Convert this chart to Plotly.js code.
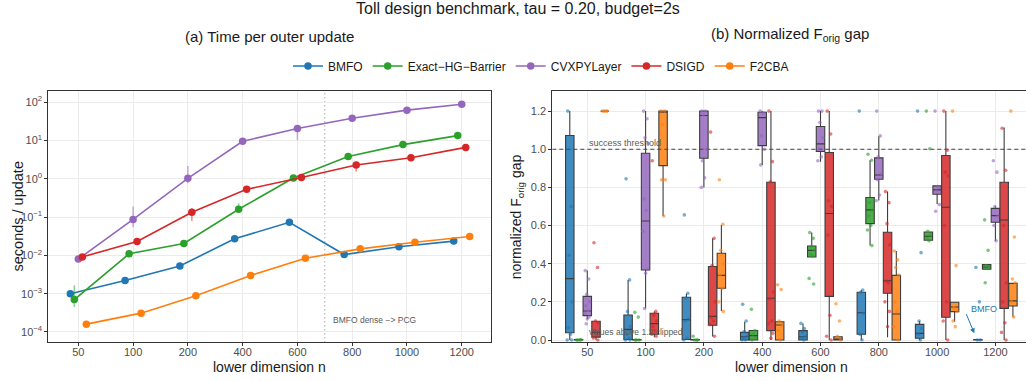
<!DOCTYPE html>
<html><head><meta charset="utf-8">
<script src="https://cdn.plot.ly/plotly-3.0.1.min.js"></script>
<style>html,body{margin:0;padding:0;overflow:hidden;background:#fff}#chart{width:1032px;height:381px}</style>
</head><body><div id="chart"></div><script>
// ---------- data ----------
const categories = ['50','100','200','400','600','800','1000','1200'];
const methods = ['BMFO','Exact\u2212HG\u2212Barrier','CVXPYLayer','DSIGD','F2CBA'];
const colors = ['#1f77b4','#2ca02c','#9467bd','#d62728','#ff7f0e'];

// (a) seconds per outer update (median) with interval bounds
const timeBMFO  = [1.0e-3, 2.2e-3, 5.3e-3, 0.027, 0.073, 0.0105, 0.0168, 0.0236];
const timeExact = [7.0e-4, 0.011, 0.0205, 0.16, 1.05, 3.8, 7.8, 13.4];
const timeCVX   = [0.008, 0.087, 1.03, 9.5, 20.5, 38, 62, 88];
const timeDSIGD = [0.0091, 0.023, 0.133, 0.53, 1.08, 2.3, 3.55, 6.6];
const timeF2CBA = [1.6e-4, 3.1e-4, 8.8e-4, 3.0e-3, 8.4e-3, 0.0148, 0.022, 0.031];

const loBMFO  = [0.95e-3, 2.05e-3, 5.0e-3, 0.025, 0.068, 0.0098, 0.0158, 0.0224];
const hiBMFO  = [1.06e-3, 2.35e-3, 5.6e-3, 0.029, 0.077, 0.0112, 0.0178, 0.0248];
const loExact = [4.5e-4, 0.0104, 0.018, 0.14, 1.0, 3.6, 7.4, 12.8];
const hiExact = [1.65e-3, 0.0116, 0.023, 0.23, 1.1, 4.0, 8.2, 14.0];
const loCVX   = [0.0075, 0.054, 0.76, 9.0, 10.3, 36, 59, 85];
const hiCVX   = [0.0085, 0.19, 2.15, 10.0, 22, 40, 65, 92];
const loDSIGD = [0.0087, 0.0205, 0.079, 0.5, 1.03, 1.55, 3.4, 6.3];
const hiDSIGD = [0.0095, 0.026, 0.17, 0.57, 1.13, 2.45, 3.7, 6.9];
const loF2CBA = [1.52e-4, 2.95e-4, 8.4e-4, 2.85e-3, 8.0e-3, 0.0142, 0.021, 0.0297];
const hiF2CBA = [1.68e-4, 3.25e-4, 9.2e-4, 3.15e-3, 8.8e-3, 0.0155, 0.023, 0.0325];

const logTickVals = [1e-4, 1e-3, 1e-2, 1e-1, 1, 10, 100];
const logTickText = ['10<sup>\u22124</sup>','10<sup>\u22123</sup>','10<sup>\u22122</sup>','10<sup>\u22121</sup>','10<sup>0</sup>','10<sup>1</sup>','10<sup>2</sup>'];
const gapTickVals = [0, 0.2, 0.4, 0.6, 0.8, 1.0, 1.2];
const successThreshold = 1.0;

// (b) normalized F_orig gap: box statistics per category
const boxBMFO  = {q1:[0.038,0.003,0.003,0.0,0.0,0.03,0.009,0.0], med:[0.322,0.056,0.107,0.017,0.017,0.143,0.035,0.0],
                  q3:[1.072,0.131,0.224,0.04,0.049,0.25,0.082,0.003], lo:[0,0,0,0,0,0,0,0], hi:[1.2,0.315,0.243,0.096,0.087,0.262,0.1,0.003]};
const boxExact = {q1:[0,0,0,0,0.435,0.61,0.523,0.371], med:[0,0,0,0.023,0.47,0.682,0.544,0.383],
                  q3:[0.003,0.003,0.003,0.05,0.493,0.747,0.566,0.395], lo:[0,0,0,0,0.435,0.495,0.523,0.371], hi:[0.003,0.003,0.003,0.05,0.563,0.942,0.566,0.395]};
const boxCVX   = {q1:[0.128,0.367,0.953,1.019,0.988,0.843,0.764,0.617], med:[0.152,0.624,1.177,1.166,1.028,0.865,0.787,0.652],
                  q3:[0.229,0.979,1.2,1.194,1.119,0.955,0.808,0.69], lo:[0.11,0.166,0.8,0.918,0.935,0.731,0.713,0.519], hi:[0.364,1.2,1.2,1.2,1.2,1.068,0.808,0.7]};
const boxDSIGD = {q1:[0.015,0.03,0.077,0.049,0.229,0.245,0.119,0.166], med:[0.04,0.086,0.124,0.219,0.663,0.311,0.696,0.629],
                  q3:[0.098,0.14,0.385,0.827,0.983,0.565,0.967,0.827], lo:[0,0.015,0.019,0,0,0.014,0,0], hi:[0.1,0.15,0.533,1.2,1.2,0.778,1.2,1.114]};
const boxF2CBA = {q1:[1.2,0.914,0.271,0,0,0,0.149,0.178], med:[1.2,1.2,0.339,0.079,0.003,0.136,0.173,0.205],
                  q3:[1.2,1.2,0.455,0.096,0.017,0.339,0.198,0.297], lo:[1.2,0.65,0.152,0,0,0,0.096,0.122], hi:[1.2,1.2,0.603,0.1,0.02,0.467,0.2,0.3]};

// (b) individual runs per category (values above 1.2 shown at 1.2)
const ptsBMFO = [[1.2,0.70,0.444,0.2,0.065,0.03,0.0,0.0],[0.845,0.315,0.15,0.07,0.03,0.01,0.0,0.0],[0.656,0.245,0.22,0.11,0.1,0.01,0.0],
  [0.187,0.1,0.045,0.02,0.01,0.0,0.0],[0.087,0.06,0.04,0.02,0.01,0.0],[1.2,0.262,0.25,0.14,0.03,0.0],[1.2,0.458,0.1,0.06,0.03,0.0],[0.38,0.2,0.0,0.0]];
const ptsExact = [[0.0,0.0,0.0,0.002],[0.145,0.12,0.0,0.0,0.0],[0.02,0.0,0.0,0.0],[0.161,0.05,0.03,0.01,0.0],
  [0.563,0.533,0.49,0.47,0.45,0.44,0.323,0.294],[0.974,0.942,0.72,0.68,0.65,0.6,0.577,0.495],[1.2,1.003,0.57,0.55,0.53,0.52],[0.63,0.47,0.39,0.38,0.3]];
const ptsCVX = [[0.364,0.32,0.24,0.2,0.18,0.155,0.14,0.12,0.11,0.085],[1.2,1.16,1.06,1.03,0.74,0.68,0.57,0.37,0.35,0.165],
  [1.2,1.2,1.18,1.0,0.94,0.85,0.8],[1.2,1.19,1.07,1.0,0.918],[1.2,1.2,1.14,1.06,1.0,0.96,0.94],[1.2,1.07,0.96,0.87,0.84,0.76,0.73],
  [1.2,0.8,0.78,0.71,0.675],[0.94,0.88,0.7,0.65,0.6,0.52]];
const ptsDSIGD = [[0.51,0.38,0.1,0.09,0.05,0.03,0.01,0.0],[0.94,0.15,0.13,0.1,0.07,0.05,0.03,0.02],[1.09,0.533,0.39,0.2,0.12,0.1,0.08,0.02],
  [1.2,0.935,0.83,0.252,0.215,0.1,0.087,0.035,0.009],[1.2,1.08,0.73,0.7,0.55,0.13,0.02,0.0],[0.778,0.72,0.61,0.5,0.31,0.3,0.2,0.15,0.07],
  [1.2,0.995,0.88,0.86,0.6,0.2,0.1,0.0],[1.11,0.89,0.6,0.3,0.2,0.09,0.04,0.0]];
const ptsF2CBA = [[1.2,1.2,1.2,1.2],[1.2,1.2,1.13,0.84,0.84,0.65],[0.84,0.607,0.47,0.4,0.34,0.27,0.2,0.15],[0.29,0.265,0.1,0.08,0.05,0.0],
  [0.19,0.1,0.02,0.0],[0.467,0.42,0.38,0.34,0.2,0.15,0.07,0.0],[1.2,0.39,0.17,0.15,0.1,0.07],[1.2,0.54,0.32,0.3,0.2,0.12]];

// ---------- drawing ----------
const W = 1032, H = 381;
const px = v => v / W;
const py = v => (H - v) / H;
const FONT = 'Liberation Sans, Arial, Helvetica, sans-serif';
const idx = categories.map((_, i) => i);
const rgba = (hex, a) => { const n = parseInt(hex.slice(1), 16); return `rgba(${n>>16},${(n>>8)&255},${n&255},${a})`; };
const xRange2 = [-0.6, 7.6];

const times = [timeBMFO, timeExact, timeCVX, timeDSIGD, timeF2CBA];
const los = [loBMFO, loExact, loCVX, loDSIGD, loF2CBA];
const his = [hiBMFO, hiExact, hiCVX, hiDSIGD, hiF2CBA];
const boxes = [boxBMFO, boxExact, boxCVX, boxDSIGD, boxF2CBA];
const pts = [ptsBMFO, ptsExact, ptsCVX, ptsDSIGD, ptsF2CBA];

const lineDodge = 0.073;   // point dodge in panel (a)
const boxDodge = 0.15;     // box dodge in panel (b)
const jit = [-0.035, 0.025, -0.01, 0.04, -0.025, 0.012, -0.045, 0.032, 0.0, -0.018];

const traces = [];
// success threshold reference line (drawn under the boxes, above the grid)
traces.push({type: 'scatter', mode: 'lines', xaxis: 'x2', yaxis: 'y2', showlegend: false, hoverinfo: 'skip',
  x: xRange2, y: [successThreshold, successThreshold], line: {color: '#444444', width: 1, dash: '4px,3px'}});
// panel (b) boxes
methods.forEach((m, k) => {
  const b = boxes[k];
  traces.push({
    type: 'box', xaxis: 'x2', yaxis: 'y2', name: m, showlegend: false, hoverinfo: 'skip',
    x: idx.map(i => i + (k - 2) * boxDodge),
    q1: b.q1, median: b.med, q3: b.q3, lowerfence: b.lo, upperfence: b.hi,
    width: 0.145, whiskerwidth: 0, boxpoints: false,
    fillcolor: rgba(colors[k], 0.85), line: {color: '#3d3d3d', width: 1.1}
  });
});
// panel (b) jittered points
methods.forEach((m, k) => {
  const xs = [], ys = [];
  pts[k].forEach((arr, i) => arr.forEach((v, j) => { xs.push(i + (k - 2) * boxDodge + jit[j % jit.length]); ys.push(v); }));
  traces.push({
    type: 'scatter', mode: 'markers', xaxis: 'x2', yaxis: 'y2', name: m, showlegend: false, hoverinfo: 'skip',
    x: xs, y: ys, marker: {size: 3.6, color: colors[k], opacity: 0.6}, cliponaxis: false
  });
});
// panel (a) lines
methods.forEach((m, k) => {
  traces.push({
    type: 'scatter', mode: 'lines+markers', xaxis: 'x', yaxis: 'y', name: m,
    x: idx.map(i => i + (k - 2) * lineDodge), y: times[k],
    line: {color: colors[k], width: 1.6}, marker: {color: colors[k], size: 7.5},
    error_y: {type: 'data', symmetric: false,
      array: times[k].map((v, i) => his[k][i] - v), arrayminus: times[k].map((v, i) => v - los[k][i]),
      color: rgba(colors[k], 0.5), thickness: 1.6, width: 0}
  });
});

const axisCommon = {
  showline: true, mirror: true, linecolor: '#333333', linewidth: 1,
  showgrid: true, gridcolor: '#ebebeb', gridwidth: 1, zeroline: false,
  ticks: 'outside', ticklen: 3, tickwidth: 1, tickcolor: '#333333',
  tickfont: {size: 11, color: '#4d4d4d', family: FONT}
};

const ann = (text, x, y, opts) => Object.assign({text, x: px(x), y: py(y), xref: 'paper', yref: 'paper',
  showarrow: false, xanchor: 'center', yanchor: 'middle', font: {family: FONT, size: 14, color: '#1a1a1a'}}, opts || {});

const layout = {
  width: W, height: H, margin: {l: 0, r: 0, t: 0, b: 0},
  paper_bgcolor: '#ffffff', plot_bgcolor: '#ffffff',
  font: {family: FONT, color: '#1a1a1a'},
  boxmode: 'overlay',
  showlegend: true,
  legend: {orientation: 'h', x: px(541), xanchor: 'center', y: py(66), yanchor: 'middle',
           font: {size: 12, family: FONT, color: '#1a1a1a'}, bgcolor: 'rgba(0,0,0,0)', itemclick: false},
  xaxis: Object.assign({}, axisCommon, {domain: [px(48.3), px(491.3)], range: [-0.548, 7.54],
           tickmode: 'array', tickvals: idx, ticktext: categories, anchor: 'y', ticklabelstandoff: -4}),
  yaxis: Object.assign({}, axisCommon, {domain: [py(342.3), py(90.7)], type: 'log', range: [-4.27, 2.30],
           tickmode: 'array', tickvals: logTickVals, ticktext: logTickText, anchor: 'x'}),
  xaxis2: Object.assign({}, axisCommon, {domain: [px(552.3), px(1030.4)], range: xRange2,
           tickmode: 'array', tickvals: idx, ticktext: categories, anchor: 'y2', ticklabelstandoff: -4}),
  yaxis2: Object.assign({}, axisCommon, {domain: [py(342.3), py(90.7)], range: [-0.012, 1.307],
           tickmode: 'array', tickvals: gapTickVals, tickformat: '.1f', anchor: 'x2'}),
  shapes: [
    {type: 'line', xref: 'x', yref: 'y domain', x0: 4.5, x1: 4.5, y0: 0, y1: 1, layer: 'below',
     line: {color: '#8a8a8a', width: 1, dash: '1px,3px'}}
  ],
  annotations: [
    ann('Toll design benchmark, tau = 0.20, budget=2s', 518, 9, {font: {family: FONT, size: 16, color: '#1a1a1a'}}),
    ann('(a) Time per outer update', 269.8, 36, {font: {family: FONT, size: 15, color: '#1a1a1a'}}),
    ann('(b) Normalized F<sub>orig</sub> gap', 789.5, 35, {font: {family: FONT, size: 15, color: '#1a1a1a'}}),
    ann('lower dimension n', 269.8, 366.5),
    ann('lower dimension n', 791.3, 366.5),
    ann('seconds / update', 17, 216.5, {textangle: -90, font: {family: FONT, size: 14.5, color: '#1a1a1a'}}),
    ann('normalized F<sub>orig</sub> gap', 516.7, 216.5, {textangle: -90}),
    ann('BMFO dense \u2212> PCG', 331, 320, {xanchor: 'left', font: {family: FONT, size: 8.5, color: '#5a5a5a'}}),
    ann('success threshold', 587.3, 143.3, {xanchor: 'left', font: {family: FONT, size: 9, color: '#5a5a5a'}}),
    ann('values above 1.2 clipped', 587.3, 332, {xanchor: 'left', font: {family: FONT, size: 8.5, color: '#5a5a5a'}}),
    ann('BMFO', 969, 309, {xanchor: 'left', font: {family: FONT, size: 9, color: colors[0]}}),
    {text: '', xref: 'paper', yref: 'paper', x: px(974.3), y: py(333.3), ax: -8.6, ay: -20.6,
     showarrow: true, arrowhead: 2, arrowsize: 1, arrowwidth: 1, arrowcolor: colors[0]}
  ]
};

Plotly.newPlot('chart', traces, layout, {staticPlot: true, displayModeBar: false});
</script></body></html>
